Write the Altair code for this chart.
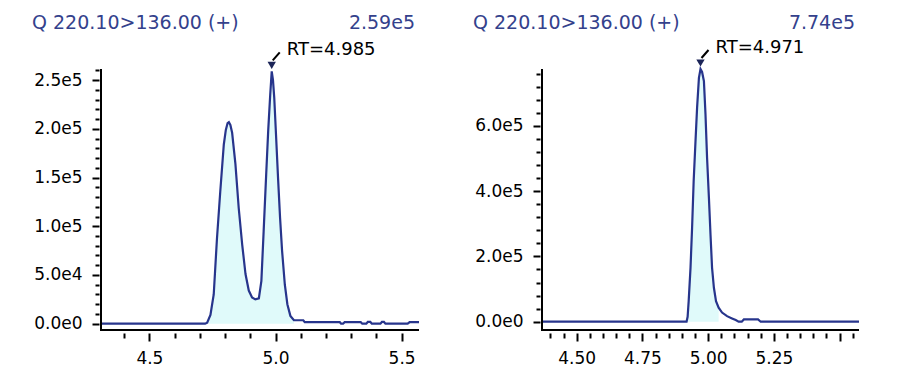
import json
import altair as alt
import pandas as pd

# ---------------- data ----------------
title_text = ["Q 220.10>136.00 (+)", "Q 220.10>136.00 (+)"]
max_text = ["2.59e5", "7.74e5"]

left_t = [4.308, 4.721, 4.729, 4.742, 4.755, 4.768, 4.781, 4.795, 4.803, 4.810, 4.815, 4.821,
          4.828, 4.841, 4.854, 4.868, 4.881, 4.894, 4.907, 4.920, 4.934, 4.944, 4.953, 4.963,
          4.971, 4.979, 4.985, 4.990, 4.995, 5.002, 5.010, 5.018, 5.026, 5.037, 5.047, 5.059,
          5.073, 5.110, 5.116, 5.255, 5.260, 5.268, 5.274, 5.338, 5.344, 5.360, 5.366,
          5.376, 5.382, 5.416, 5.422, 5.430, 5.436, 5.524, 5.532, 5.569]
left_v = [0, 0, 1000, 9000, 30000, 88000, 136000, 184000, 199000, 206000, 207000, 204000,
          196000, 164000, 119000, 81000, 51000, 34000, 27000, 25000, 26000, 44000, 95000, 153000,
          198000, 235000, 259000, 250000, 232000, 194000, 150000, 109000, 75000, 40000, 20000, 8000,
          3500, 3500, 1500, 1500, 0, 0, 1500, 1500, 0, 0, 1800,
          1800, 0, 0, 1800, 1800, 0, 0, 1600, 1600]

right_t = [4.368, 4.918, 4.922, 4.926, 4.933, 4.939, 4.945, 4.952, 4.958, 4.965, 4.971,
           4.977, 4.984, 4.990, 4.996, 5.003, 5.009, 5.015, 5.022, 5.030, 5.040, 5.053,
           5.072, 5.091, 5.105, 5.116, 5.128, 5.136, 5.190, 5.200, 5.574]
right_v = [0, 0, 15000, 63000, 165000, 288000, 431000, 553000, 655000, 747000, 774000,
           765000, 737000, 635000, 502000, 380000, 268000, 165000, 104000, 63000, 43000, 28000,
           17000, 10000, 5000, 0, 0, 7000, 7000, 0, 0]

left_fill = [4.721, 5.073]
right_fill = [4.918, 5.040]

peak_rt = [4.985, 4.971]
peak_v = [259000, 774000]

left_xdomain = [4.308, 5.569]
right_xdomain = [4.368, 5.574]
left_ydomain = [-6500, 261500]
right_ydomain = [-25400, 774000]

left_xticks = [4.4, 4.5, 4.6, 4.7, 4.8, 4.9, 5.0, 5.1, 5.2, 5.3, 5.4, 5.5]
left_xlong = [4.5, 5.0, 5.5]
left_xlabels = [4.5, 5.0, 5.5]
right_xticks = [4.4, 4.45, 4.5, 4.55, 4.6, 4.65, 4.7, 4.75, 4.8, 4.85, 4.9, 4.95, 5.0,
                5.05, 5.1, 5.15, 5.2, 5.25, 5.3, 5.35, 5.4, 5.45, 5.5, 5.55]
right_xlong = [4.5, 4.75, 5.0, 5.25, 5.5]
right_xlabels = [4.5, 4.75, 5.0, 5.25]

left_yticks = [0, 10000, 20000, 30000, 40000, 50000, 60000, 70000, 80000, 90000, 100000,
               110000, 120000, 130000, 140000, 150000, 160000, 170000, 180000, 190000,
               200000, 210000, 220000, 230000, 240000, 250000, 260000]
left_ymajor = [0, 50000, 100000, 150000, 200000, 250000]
right_yticks = [0, 40000, 80000, 120000, 160000, 200000, 240000, 280000, 320000, 360000,
                400000, 440000, 480000, 520000, 560000, 600000, 640000, 680000, 720000, 760000]
right_ymajor = [0, 200000, 400000, 600000]

# ---------------- style ----------------
LINE = "#27358C"
FILL = "#E0FAFA"
TITLE = "#34418C"
MARK = "#1C2558"
FONT = "DejaVu Sans"
W_L, W_R, H = 318, 317, 261


def panel(t, v, fill, xdom, ydom, xticks, xlong, xlabels, xfmt, yticks, ymajor,
          title, maxlab, rt, rtv, width):
    df = pd.DataFrame({"t": t, "v": v})
    x_axis = alt.Axis(
        values=xticks,
        domain=False, grid=False, offset=3,
        tickColor="black", tickWidth=2,
        tickSize={"condition": {"test": f"indexof({json.dumps(xlong)}, datum.value) >= 0", "value": 8}, "value": 5},
        labelExpr=f"indexof({json.dumps(xlabels)}, datum.value) >= 0 ? format(datum.value, '{xfmt}') : ''",
        labelFont=FONT, labelFontSize=17, labelColor="black", labelPadding=9,
        title=None, labelFlush=False, labelOverlap=False,
    )
    y_axis = alt.Axis(
        values=yticks,
        domain=False, grid=False, offset=2,
        tickColor="black", tickWidth=2,
        tickSize={"condition": {"test": f"indexof({json.dumps(ymajor)}, datum.value) >= 0", "value": 7}, "value": 4},
        labelExpr=f"indexof({json.dumps(ymajor)}, datum.value) >= 0 ? replace(format(datum.value, '.1e'), '+', '') : ''",
        labelFont=FONT, labelFontSize=17, labelColor="black", labelPadding=10,
        title=None, labelFlush=False, labelOverlap=False,
    )
    X = alt.X("t:Q", scale=alt.Scale(domain=xdom, nice=False, zero=False), axis=x_axis)
    Y = alt.Y("v:Q", scale=alt.Scale(domain=ydom, nice=False, zero=False), axis=y_axis)

    base = alt.Chart(df)
    area = base.transform_filter(
        (alt.datum.t >= fill[0]) & (alt.datum.t <= fill[1])
    ).mark_area(color=FILL, opacity=1).encode(x=X, y=Y, y2=alt.datum(0))
    line = base.mark_line(color=LINE, strokeWidth=2.2, interpolate="linear").encode(x=X, y=Y)

    xline = base.mark_rule(color="black", strokeWidth=2).encode(
        x=alt.value(0), x2=alt.value(width), y=alt.value(H))
    yline = base.mark_rule(color="black", strokeWidth=2).encode(
        x=alt.value(0), y=alt.value(0), y2=alt.value(H + 1))

    hdr = pd.DataFrame({"title": [title], "maxlab": [maxlab]})
    t1 = alt.Chart(hdr).mark_text(align="left", baseline="alphabetic", font=FONT,
                                  fontSize=19, color=TITLE).encode(
        text="title:N", x=alt.value(-69), y=alt.value(-40))
    t2 = alt.Chart(hdr).mark_text(align="right", baseline="alphabetic", font=FONT,
                                  fontSize=19, color=TITLE).encode(
        text="maxlab:N", x=alt.value(width - 4), y=alt.value(-40))

    pk = pd.DataFrame({"t": [rt], "v": [rtv], "label": [f"RT={rt:.3f}"]})
    tri = alt.Chart(pk).mark_point(shape="triangle-down", filled=True, size=70, color=MARK,
                                   opacity=1, yOffset=-6).encode(x=X, y=Y)
    lead = alt.Chart(pk).mark_rule(color="black", strokeWidth=2, xOffset=1, x2Offset=8,
                                   yOffset=-11, y2Offset=-19).encode(x=X, x2="t:Q", y=Y, y2="v:Q")
    lab = alt.Chart(pk).mark_text(align="left", baseline="middle", font=FONT, fontSize=18,
                                  color="black", dx=15, dy=-21).encode(x=X, y=Y, text="label:N")

    return alt.layer(area, line, xline, yline, t1, t2, tri, lead, lab).properties(
        width=width, height=H,
        view=alt.ViewBackground(stroke="transparent", strokeWidth=0))


left = panel(left_t, left_v, left_fill, left_xdomain, left_ydomain, left_xticks, left_xlong,
             left_xlabels, ".1f", left_yticks, left_ymajor, title_text[0], max_text[0],
             peak_rt[0], peak_v[0], W_L)
right = panel(right_t, right_v, right_fill, right_xdomain, right_ydomain, right_xticks,
              right_xlong, right_xlabels, ".2f", right_yticks, right_ymajor, title_text[1],
              max_text[1], peak_rt[1], peak_v[1], W_R)

chart = alt.hconcat(left, right, spacing=123, bounds="flush").properties(
    padding={"left": 24, "top": 6, "right": 5, "bottom": 5}
).configure_view(strokeWidth=0, stroke="transparent").configure(background="white")

chart.save("out.html", embed_options={"renderer": "svg", "actions": False})
